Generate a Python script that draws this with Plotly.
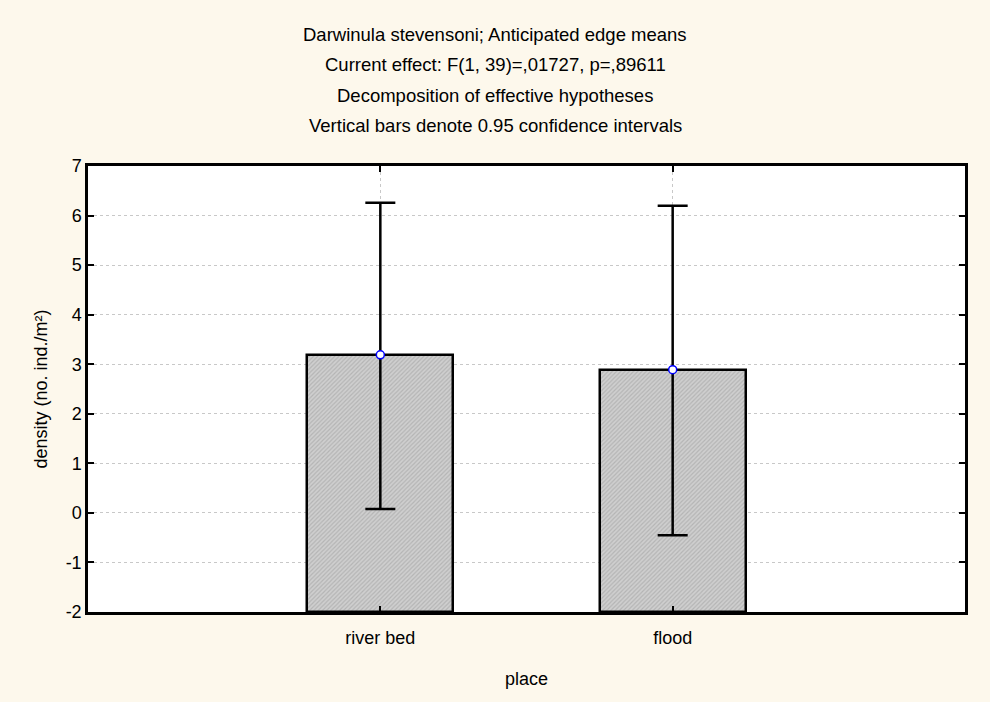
import plotly.graph_objects as go

categories = ["river bed", "flood"]
means = [3.19, 2.89]
ci_upper = [6.26, 6.20]
ci_lower = [0.08, -0.45]
y_ticks = [-2, -1, 0, 1, 2, 3, 4, 5, 6, 7]
y_ticklabels = ["-2", "-1", "0", "1", "2", "3", "4", "5", "6", "7"]
title_lines = [
    "Darwinula stevensoni; Anticipated edge means",
    "Current effect: F(1, 39)=,01727, p=,89611",
    "Decomposition of effective hypotheses",
    "Vertical bars denote 0.95 confidence intervals",
]

y_min, y_max = -2, 7
err_plus = [u - m for u, m in zip(ci_upper, means)]
err_minus = [m - l for m, l in zip(means, ci_lower)]

FONT = "Liberation Sans, Arial, sans-serif"
FS = 18

fig = go.Figure()
fig.add_trace(go.Bar(
    x=categories, y=[m - y_min for m in means], base=y_min, width=0.5,
    marker=dict(
        color="#c0c0c0",
        line=dict(color="black", width=2.5),
        pattern=dict(shape="/", size=3, solidity=0.4,
                     fgcolor="#999999", bgcolor="#cfcfcf"),
    ),
    showlegend=False, hoverinfo="skip",
))
fig.add_trace(go.Scatter(
    x=categories, y=means, mode="markers",
    marker=dict(symbol="circle", size=8, color="white",
                line=dict(color="#0000ff", width=1.5)),
    error_y=dict(type="data", symmetric=False, array=err_plus,
                 arrayminus=err_minus, color="black", thickness=2.5, width=15),
    showlegend=False,
))

annotations = []
for i, t in enumerate(title_lines):
    annotations.append(dict(
        text=t, xref="paper", yref="paper",
        x=(495 - 88) / 877, y=(612 - (35 + 30 * i)) / 446,
        xanchor="center", yanchor="middle", showarrow=False,
        font=dict(family=FONT, size=18.5, color="black"),
    ))

fig.update_layout(
    width=990, height=702,
    paper_bgcolor="#fdf8ec", plot_bgcolor="white",
    margin=dict(l=88, r=25, t=166, b=90),
    font=dict(family=FONT, color="black"),
    annotations=annotations,
    bargap=0,
)
grid = dict(showgrid=True, gridcolor="#c8c8c8", griddash="3px,3px", gridwidth=1)
fig.update_xaxes(
    type="category", range=[-1, 2],
    showline=True, linecolor="black", linewidth=2.5, mirror="allticks",
    ticks="inside", ticklen=6, tickwidth=2, tickcolor="black",
    ticklabelstandoff=8,
    tickfont=dict(size=FS), title=dict(text="place", font=dict(size=FS), standoff=26),
    zeroline=False, **grid,
)
fig.update_yaxes(
    range=[y_min, y_max], tickvals=y_ticks, ticktext=y_ticklabels,
    showline=True, linecolor="black", linewidth=2.5, mirror="allticks",
    ticks="inside", ticklen=6, tickwidth=2, tickcolor="black",
    zeroline=False, tickfont=dict(size=FS),
    title=dict(text="density (no. ind./m²)", font=dict(size=FS), standoff=14),
    **grid,
)

fig.write_html("out.html",
               config={"displayModeBar": False},
               post_script="document.body.style.margin='0';document.body.style.padding='0';")
